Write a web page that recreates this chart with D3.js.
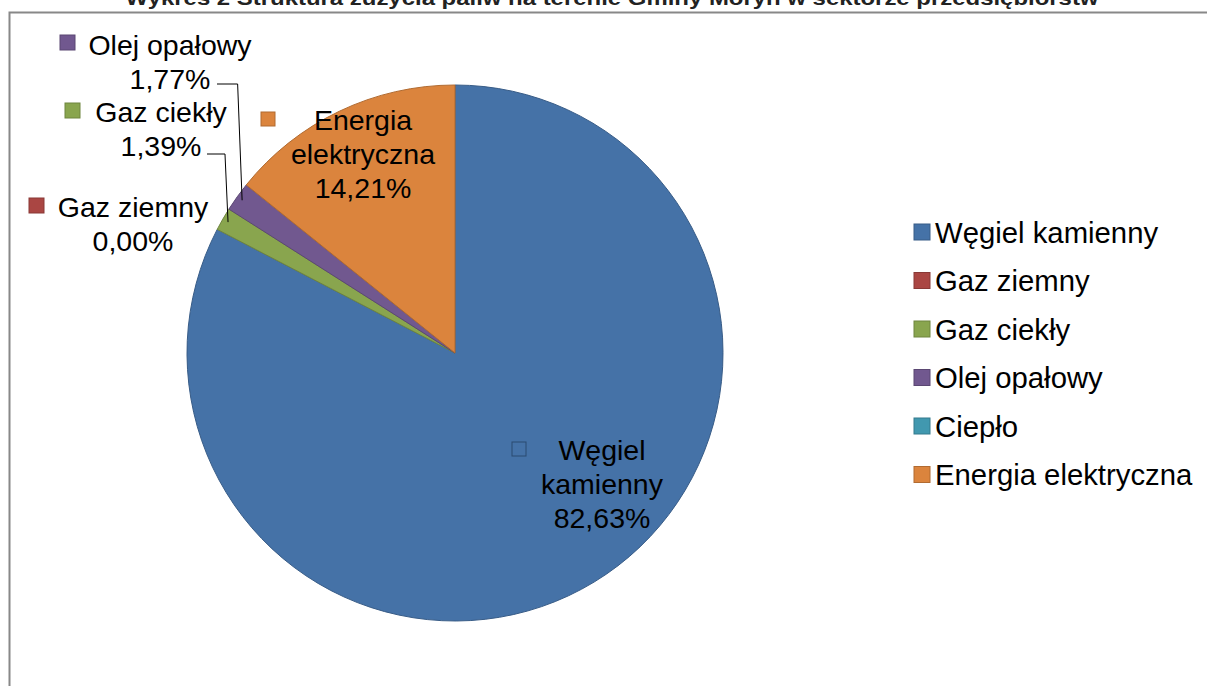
<!DOCTYPE html>
<html>
<head>
<meta charset="utf-8">
<script src="https://cdn.jsdelivr.net/npm/d3@7"></script>
<style>
  body { margin: 0; background: #fff; }
  svg { display: block; font-family: "Liberation Sans", Arial, sans-serif; }
</style>
</head>
<body>
<svg id="chart" width="1207" height="686"></svg>
<script>
// data
var categories = ["Węgiel kamienny", "Gaz ziemny", "Gaz ciekły", "Olej opałowy", "Ciepło", "Energia elektryczna"];
var values = [82.63, 0.00, 1.39, 1.77, 0.00, 14.21];
var labelLines = [["Węgiel", "kamienny"], ["Gaz ziemny"], ["Gaz ciekły"], ["Olej opałowy"], ["Ciepło"], ["Energia", "elektryczna"]];
var colors = ["#4572A7", "#AA4643", "#89A54E", "#71588F", "#4198AF", "#DB843D"];
var title = "Wykres 2 Struktura zużycia paliw na terenie Gminy Moryń w sektorze przedsiębiorstw";

// layout of the data labels (text centre of first line, key square corner, leader start)
var labelLayout = [
  {x: 602, y: 450, kx: 512, ky: 442, ks: 14, leader: false, show: true},
  {x: 133, y: 207, kx: 29, ky: 198, ks: 15, leader: false, show: true},
  {x: 161, y: 112, kx: 65, ky: 103, ks: 15, leader: true, lx: 207, ly: 154, show: true},
  {x: 170, y: 45, kx: 60, ky: 35, ks: 15, leader: true, lx: 217, ly: 84, show: true},
  {x: 0, y: 0, show: false},
  {x: 363, y: 120, kx: 261, ky: 112, ks: 14, leader: false, show: true}
];

var svg = d3.select("#chart");
var fontSize = 28.5, lineH = 34;

// outer frame
svg.append("rect")
   .attr("x", 9.5).attr("y", 12.5)
   .attr("width", 1300).attr("height", 900)
   .attr("fill", "none")
   .attr("stroke", "#888")
   .attr("stroke-width", 2);

// title (cut at top)
svg.append("text")
   .attr("x", 612).attr("y", 5)
   .attr("text-anchor", "middle")
   .attr("font-size", 20)
   .attr("font-weight", "bold")
   .attr("fill", "#222")
   .attr("textLength", 973)
   .attr("lengthAdjust", "spacingAndGlyphs")
   .text(title);

var cx = 455, cy = 353, r = 268;

var pie = d3.pie().sort(null).value(function(d){ return d; });
var arcs = pie(values);
var arc = d3.arc().innerRadius(0).outerRadius(r);

var g = svg.append("g").attr("transform", "translate(" + cx + "," + cy + ")");

g.selectAll("path")
  .data(arcs)
  .enter().append("path")
    .attr("d", arc)
    .attr("fill", function(d, i){ return colors[i]; })
    .attr("stroke", function(d, i){ return d3.color(colors[i]).darker(0.6); })
    .attr("stroke-width", function(d){ return d.value > 0 ? 1 : 0; });

function pct(v){ return v.toFixed(2).replace(".", ",") + "%"; }

// leader lines
arcs.forEach(function(d, i){
  var L = labelLayout[i];
  if (!L.show || !L.leader) return;
  var a = (d.startAngle + d.endAngle) / 2;
  var ex = cx + Math.sin(a) * (r - 6), ey = cy - Math.cos(a) * (r - 6);
  var cornerX = ex - (ey - L.ly) * 0.03;
  svg.append("polyline")
     .attr("points", [[L.lx, L.ly], [cornerX - 1, L.ly], [ex, ey]].map(function(p){ return p.join(","); }).join(" "))
     .attr("fill", "none")
     .attr("stroke", "#000")
     .attr("stroke-width", 1);
});

// data labels
arcs.forEach(function(d, i){
  var L = labelLayout[i];
  if (!L.show) return;
  var lines = labelLines[i].concat([pct(values[i])]);
  var t = svg.append("text")
     .attr("text-anchor", "middle")
     .attr("font-size", fontSize)
     .attr("fill", "#000");
  lines.forEach(function(s, k){
    t.append("tspan")
     .attr("x", L.x)
     .attr("y", L.y + k * lineH)
     .attr("dy", "0.36em")
     .text(s);
  });
  svg.append("rect")
     .attr("x", L.kx).attr("y", L.ky)
     .attr("width", L.ks).attr("height", L.ks)
     .attr("fill", colors[i])
     .attr("stroke", i === 0 ? "#2b4a70" : d3.color(colors[i]).darker(0.6))
     .attr("stroke-width", 1);
});

// legend
var legend = svg.append("g")
  .selectAll("g")
  .data(categories)
  .enter().append("g")
    .attr("transform", function(d, i){ return "translate(914," + (232 + i * 48.5) + ")"; });

legend.append("rect")
  .attr("x", 0).attr("y", -8)
  .attr("width", 16).attr("height", 16)
  .attr("fill", function(d, i){ return colors[i]; })
  .attr("stroke", function(d, i){ return d3.color(colors[i]).darker(0.6); })
  .attr("stroke-width", 1);

legend.append("text")
  .attr("x", 21)
  .attr("y", 0)
  .attr("dy", "0.36em")
  .attr("font-size", 29.3)
  .attr("fill", "#000")
  .text(function(d){ return d; });
</script>
</body>
</html>
